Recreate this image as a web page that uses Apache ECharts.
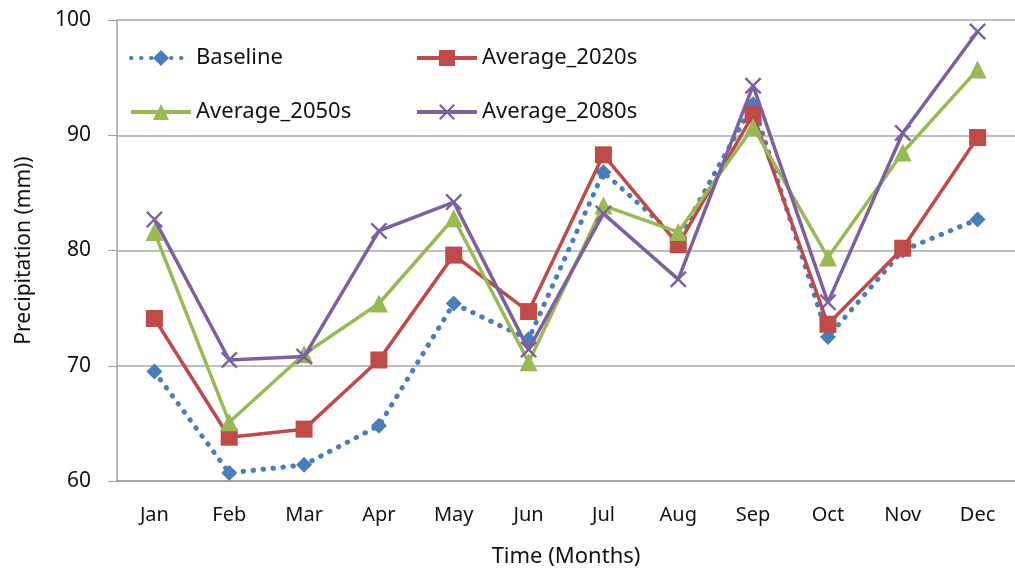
<!DOCTYPE html>
<html>
<head>
<meta charset="utf-8">
<script src="https://cdn.jsdelivr.net/npm/echarts@6/dist/echarts.min.js"></script>
<style>
  html, body { margin: 0; padding: 0; background: #fff; }
  #chart { width: 1015px; height: 573px; }
</style>
</head>
<body>
<div id="chart"></div>
<script>
var months = ['Jan', 'Feb', 'Mar', 'Apr', 'May', 'Jun', 'Jul', 'Aug', 'Sep', 'Oct', 'Nov', 'Dec']
var baseline = [69.5, 60.7, 61.4, 64.8, 75.4, 72.3, 86.8, 81.0, 92.7, 72.5, 80.0, 82.7]
var avg2020s = [74.1, 63.8, 64.5, 70.5, 79.6, 74.7, 88.3, 80.5, 91.8, 73.6, 80.2, 89.8]
var avg2050s = [81.6, 65.1, 71.0, 75.4, 82.8, 70.3, 83.9, 81.6, 90.7, 79.4, 88.5, 95.7]
var avg2080s = [82.7, 70.5, 70.8, 81.7, 84.2, 71.4, 83.2, 77.5, 94.3, 75.5, 90.2, 99.0]

var crossPath = 'path://M0,1L1,0L5,4L9,0L10,1L6,5L10,9L9,10L5,6L1,10L0,9L4,5Z'
var font = '"Noto Sans", sans-serif'

var myChart = echarts.init(document.getElementById('chart'))

function legendAt (name, left, top) {
  return {
    data: [name],
    left: left,
    top: top,
    itemWidth: 60,
    itemHeight: 20,
    itemGap: 4,
    lineStyle: { width: 4 },
    textStyle: { fontFamily: font, fontSize: 22, color: '#111' }
  }
}

var option = {
  animation: false,
  backgroundColor: '#fff',
  legend: [
    legendAt('Baseline', 124, 42),
    legendAt('Average_2020s', 410, 42),
    legendAt('Average_2050s', 124, 96),
    legendAt('Average_2080s', 410, 96)
  ],
  grid: { left: 117, right: -7, top: 20, bottom: 90 },
  xAxis: {
    type: 'category',
    data: months,
    boundaryGap: true,
    axisLine: { lineStyle: { color: '#a0a0a0', width: 1.5 } },
    axisTick: { length: 10, lineStyle: { color: '#a0a0a0' } },
    axisLabel: { margin: 24, fontFamily: font, fontSize: 20, color: '#111' },
    name: 'Time (Months)',
    nameLocation: 'middle',
    nameGap: 65,
    nameTextStyle: { fontFamily: font, fontSize: 22, color: '#111' }
  },
  yAxis: {
    type: 'value',
    min: 60,
    max: 100,
    interval: 10,
    axisLine: { show: true, lineStyle: { color: '#a0a0a0', width: 1.5 } },
    axisTick: { show: true, length: 9, lineStyle: { color: '#a0a0a0' } },
    splitLine: { lineStyle: { color: '#a8a8a8', width: 1.5 } },
    axisLabel: { margin: 26, fontFamily: font, fontSize: 21, color: '#111' },
    name: 'Precipitation (mm))',
    nameLocation: 'middle',
    nameGap: 82,
    nameTextStyle: { fontFamily: font, fontSize: 21, color: '#111' }
  },
  series: [{
    name: 'Baseline',
    type: 'line',
    data: baseline,
    symbol: 'diamond',
    symbolSize: 16,
    color: '#4a7ebb',
    lineStyle: { width: 5, type: [0.5, 9.5], cap: 'round' },
    z: 2
  }, {
    name: 'Average_2020s',
    type: 'line',
    data: avg2020s,
    symbol: 'rect',
    symbolSize: 17,
    color: '#be4b48',
    lineStyle: { width: 3.5 },
    z: 3
  }, {
    name: 'Average_2050s',
    type: 'line',
    data: avg2050s,
    symbol: 'triangle',
    symbolSize: 18,
    color: '#98b954',
    lineStyle: { width: 3.5 },
    z: 4
  }, {
    name: 'Average_2080s',
    type: 'line',
    data: avg2080s,
    symbol: crossPath,
    symbolSize: 17,
    color: '#7d60a0',
    lineStyle: { width: 3.5 },
    z: 5
  }]
}

myChart.setOption(option)
</script>
</body>
</html>
